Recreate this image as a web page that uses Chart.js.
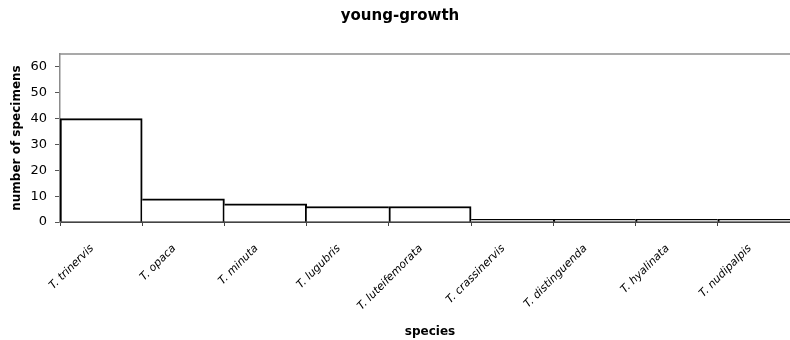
<!DOCTYPE html>
<html>
<head>
<meta charset="utf-8">
<script src="https://cdn.jsdelivr.net/npm/chart.js@4"></script>
<style>
  html, body { margin: 0; padding: 0; background: #fff; overflow: hidden; }
  #wrap { width: 800px; height: 340px; }
</style>
</head>
<body>
<div id="wrap"><canvas id="chart" width="800" height="340"></canvas></div>
<script>
const species = ['T. trinervis', 'T. opaca', 'T. minuta', 'T. lugubris', 'T. luteifemorata',
  'T. crassinervis', 'T. distinguenda', 'T. hyalinata', 'T. nudipalpis'];
const specimens = [40, 9, 7, 6, 6, 1, 1, 1, 1];
const yTicks = [0, 10, 20, 30, 40, 50, 60];

// one shared outline between neighbouring bars, drawn by the taller one
function barBorder(ctx) {
  const i = ctx.dataIndex;
  const v = specimens[i];
  const prev = i > 0 ? specimens[i - 1] : 0;
  const next = i < specimens.length - 1 ? specimens[i + 1] : 0;
  return { top: 2, bottom: 0, left: v >= prev ? 2 : 0, right: v > next ? 2 : 0 };
}

// grey line along the top of the plot area
const topBorder = {
  id: 'topBorder',
  afterDraw(chart) {
    const { ctx, chartArea } = chart;
    ctx.save();
    ctx.strokeStyle = '#8c8c8c';
    ctx.lineWidth = 1.5;
    ctx.beginPath();
    ctx.moveTo(chartArea.left, chartArea.top);
    ctx.lineTo(chartArea.right, chartArea.top);
    ctx.stroke();
    ctx.restore();
  }
};

new Chart(document.getElementById('chart'), {
  type: 'bar',
  data: {
    labels: species,
    datasets: [{
      label: 'young-growth',
      data: specimens,
      backgroundColor: '#ffffff',
      borderColor: '#000000',
      borderWidth: barBorder,
      borderSkipped: false,
      barPercentage: 1,
      categoryPercentage: 1
    }]
  },
  options: {
    responsive: false,
    animation: false,
    layout: { padding: 0 },
    plugins: {
      legend: { display: false },
      tooltip: { enabled: false },
      title: {
        display: true,
        text: 'young-growth',
        color: '#000',
        font: { family: 'DejaVu Sans', size: 15, weight: 'bold' },
        padding: { top: 7, bottom: 29 }
      }
    },
    scales: {
      x: {
        afterFit: s => { s.height = 118; },
        border: { color: '#444', width: 2 },
        grid: { offset: true, drawOnChartArea: false, tickLength: 4, color: '#444' },
        ticks: {
          color: '#000',
          minRotation: 45, maxRotation: 45,
          padding: 16,
          labelOffset: -9,
          font: { family: 'DejaVu Sans', size: 11, style: 'italic' }
        },
        title: {
          display: true,
          text: 'species',
          color: '#000',
          font: { family: 'DejaVu Sans', size: 12, weight: 'bold' },
          padding: { top: 4, bottom: 1 }
        }
      },
      y: {
        min: 0, max: 65,
        afterFit: s => { s.width = 60; },
        afterBuildTicks: s => { s.ticks = yTicks.map(v => ({ value: v })); },
        border: { color: '#8c8c8c', width: 1.5 },
        grid: { drawOnChartArea: false, tickLength: 5, color: '#555' },
        ticks: {
          color: '#000',
          padding: 8,
          font: { family: 'DejaVu Sans', size: 13 }
        },
        title: {
          display: true,
          text: 'number of specimens',
          color: '#000',
          font: { family: 'DejaVu Sans', size: 12, weight: 'bold' },
          padding: { top: 10, bottom: 0 }
        }
      }
    }
  },
  plugins: [topBorder]
});
</script>
</body>
</html>
